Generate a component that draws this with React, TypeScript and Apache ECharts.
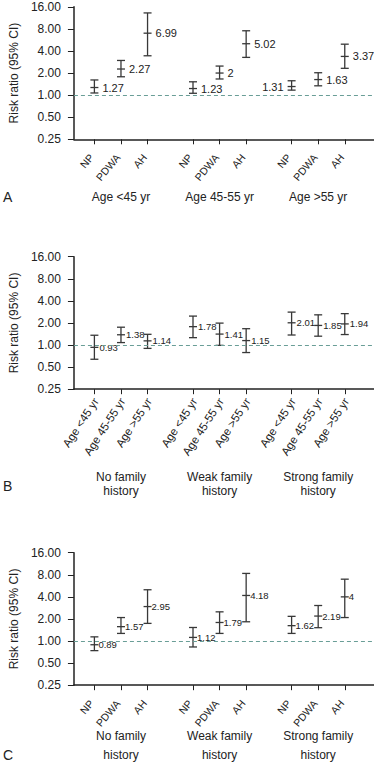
import React, { useEffect, useRef } from "react";
import * as echarts from "echarts";

// ---------- data ----------
const yTickValues = [0.25, 0.5, 1, 2, 4, 8, 16];
const yAxisTitle = "Risk ratio (95% CI)";

const panelAGroups = ["Age <45 yr", "Age 45-55 yr", "Age >55 yr"];
const panelAItems = ["NP", "PDWA", "AH"];
const panelARR = [1.27, 2.27, 6.99, 1.23, 2, 5.02, 1.31, 1.63, 3.37];
const panelALow = [1.07, 1.78, 3.44, 1.06, 1.66, 3.27, 1.17, 1.34, 2.32];
const panelAHigh = [1.61, 2.97, 13.2, 1.52, 2.49, 7.54, 1.57, 2.02, 4.95];

const panelBGroups = ["No family\nhistory", "Weak family\nhistory", "Strong family\nhistory"];
const panelBItems = ["Age <45 yr", "Age 45-55 yr", "Age >55 yr"];
const panelBRR = [0.93, 1.38, 1.14, 1.78, 1.41, 1.15, 2.01, 1.85, 1.94];
const panelBLow = [0.64, 1.08, 0.9, 1.26, 0.99, 0.79, 1.37, 1.32, 1.39];
const panelBHigh = [1.36, 1.75, 1.4, 2.48, 1.99, 1.67, 2.81, 2.58, 2.68];

const panelCGroups = ["No family\nhistory", "Weak family\nhistory", "Strong family\nhistory"];
const panelCItems = ["NP", "PDWA", "AH"];
const panelCRR = [0.89, 1.57, 2.95, 1.12, 1.79, 4.18, 1.62, 2.19, 4];
const panelCLow = [0.74, 1.27, 1.74, 0.83, 1.27, 1.83, 1.27, 1.52, 2.09];
const panelCHigh = [1.14, 2.09, 5.0, 1.53, 2.5, 8.35, 2.17, 3.05, 6.97];

const panelLetters = ["A", "B", "C"];

// ---------- layout ----------
const FONT = '"Liberation Sans", Arial, Helvetica, sans-serif';
const NARROW = '"Liberation Sans Narrow", "Arial Narrow", "Liberation Sans", Arial, sans-serif';
const INK = "#222";
const BAR = "#383838";
const REF = "#6a9e97";
const GROUP_STRIDE = 3.71;
const X_MIN = -0.77;
const X_MAX = 10.52;
const GRID_LEFT = 66;
const GRID_H = 132.5;

const pos = (i: number) => Math.floor(i / 3) * GROUP_STRIDE + (i % 3);

const panels = [
  {
    groups: panelAGroups, items: panelAItems, rr: panelARR, lo: panelALow, hi: panelAHigh,
    top: 6.8, valFont: 11, valFamily: FONT, valOffset: 8, leftLabels: [6],
    catFont: 10.5, catDx: -3, catDy: 16, catRotate: 50, groupMargin: 51, groupLH: 14, letterY: 197,
  },
  {
    groups: panelBGroups, items: panelBItems, rr: panelBRR, lo: panelBLow, hi: panelBHigh,
    top: 256.7, valFont: 9.5, valFamily: NARROW, valOffset: 5, leftLabels: [] as number[],
    catFont: 11.5, catDx: 1.5, catDy: 10, catRotate: 57, groupMargin: 81, groupLH: 14, letterY: 486,
  },
  {
    groups: panelCGroups, items: panelCItems, rr: panelCRR, lo: panelCLow, hi: panelCHigh,
    top: 552.7, valFont: 9.5, valFamily: NARROW, valOffset: 4, leftLabels: [] as number[],
    catFont: 10.5, catDx: -3, catDy: 16, catRotate: 50, groupMargin: 41, groupLH: 19, letterY: 755,
  },
];

function buildOption() {
  const grid: any[] = [];
  const xAxis: any[] = [];
  const yAxis: any[] = [];
  const series: any[] = [];
  const graphic: any[] = [];

  panels.forEach((p, pi) => {
    const itemPos = p.rr.map((_, i) => pos(i));
    const groupPos = p.groups.map((_, g) => g * GROUP_STRIDE + 1);
    grid.push({ left: GRID_LEFT, right: 0, top: p.top, height: GRID_H });

    xAxis.push({
      type: "value",
      gridIndex: pi,
      position: "bottom",
      min: X_MIN,
      max: X_MAX,
      axisLine: { show: true, onZero: false, lineStyle: { color: INK, width: 1.5 } },
      axisTick: { show: true, customValues: itemPos, length: 5, lineStyle: { color: INK, width: 1 } },
      axisLabel: { show: false },
      splitLine: { show: false },
    });
    xAxis.push({
      type: "value",
      gridIndex: pi,
      position: "bottom",
      min: X_MIN,
      max: X_MAX,
      axisLine: { show: false, onZero: false },
      axisTick: { show: false },
      axisLabel: {
        show: true,
        customValues: groupPos,
        margin: p.groupMargin,
        fontSize: 12,
        lineHeight: p.groupLH,
        fontFamily: FONT,
        color: INK,
        align: "center",
        formatter: (v: number) => {
          const k = groupPos.findIndex((q) => Math.abs(q - v) < 0.01);
          return k >= 0 ? p.groups[k] : "";
        },
      },
      splitLine: { show: false },
    });

    yAxis.push({
      type: "log",
      logBase: 2,
      gridIndex: pi,
      min: yTickValues[0],
      max: yTickValues[yTickValues.length - 1],
      splitNumber: yTickValues.length - 1,
      axisLine: { show: true, onZero: false, lineStyle: { color: INK, width: 1.5 } },
      axisTick: { show: true, length: 6, lineStyle: { color: INK, width: 1 } },
      axisLabel: {
        fontSize: 12,
        fontFamily: FONT,
        color: INK,
        margin: 13,
        formatter: (v: number) => Number(v).toFixed(2),
      },
      splitLine: { show: false },
      minorTick: { show: false },
      name: yAxisTitle,
      nameLocation: "middle",
      nameRotate: 90,
      nameGap: 51,
      nameTextStyle: { fontSize: 12, fontFamily: FONT, color: INK },
    });

    const data = p.rr.map((v, i) => [pos(i), v, p.lo[i], p.hi[i], i]);
    const rot = (p.catRotate * Math.PI) / 180;
    series.push({
      type: "custom",
      xAxisIndex: pi * 2,
      yAxisIndex: pi,
      encode: { x: 0, y: [1, 2, 3] },
      data,
      silent: true,
      clip: false,
      renderItem: (params: any, api: any) => {
        const x = api.value(0);
        const rr = api.value(1);
        const lo = api.value(2);
        const hi = api.value(3);
        const idx = api.value(4);
        const c = api.coord([x, rr]);
        const l = api.coord([x, lo]);
        const h = api.coord([x, hi]);
        const cs = params.coordSys;
        const axisY = cs.y + cs.height;
        const hw = 4;
        const ls = { stroke: BAR, lineWidth: 1.3 };
        const left = p.leftLabels.indexOf(idx) >= 0;
        return {
          type: "group",
          children: [
            { type: "line", shape: { x1: h[0], y1: h[1], x2: l[0], y2: l[1] }, style: ls },
            { type: "line", shape: { x1: h[0] - hw, y1: h[1], x2: h[0] + hw, y2: h[1] }, style: ls },
            { type: "line", shape: { x1: l[0] - hw, y1: l[1], x2: l[0] + hw, y2: l[1] }, style: ls },
            { type: "line", shape: { x1: c[0] - hw, y1: c[1], x2: c[0] + hw, y2: c[1] }, style: ls },
            {
              type: "text",
              x: left ? c[0] - p.valOffset : c[0] + p.valOffset,
              y: c[1],
              style: {
                text: String(rr),
                align: left ? "right" : "left",
                verticalAlign: "middle",
                fontSize: p.valFont,
                fontFamily: p.valFamily,
                fill: INK,
              },
            },
            {
              type: "text",
              x: c[0] + p.catDx,
              y: axisY + p.catDy,
              rotation: rot,
              style: {
                text: p.items[idx % 3],
                align: "right",
                verticalAlign: "middle",
                fontSize: p.catFont,
                fontFamily: FONT,
                fill: INK,
              },
            },
          ],
        };
      },
      markLine: {
        silent: true,
        symbol: ["none", "none"],
        label: { show: false },
        lineStyle: { type: [4, 3], color: REF, width: 1 },
        data: [{ yAxis: 1 }],
      },
    });

    graphic.push({
      type: "text",
      x: 3,
      y: p.letterY,
      style: {
        text: panelLetters[pi],
        fontSize: 14,
        fontFamily: FONT,
        fill: INK,
        verticalAlign: "middle",
      },
    });
  });

  return {
    animation: false,
    backgroundColor: "#fff",
    textStyle: { fontFamily: FONT },
    grid,
    xAxis,
    yAxis,
    series,
    graphic,
  };
}

export default function App() {
  const ref = useRef<HTMLDivElement>(null);
  useEffect(() => {
    if (!ref.current) return;
    const chart = echarts.init(ref.current, undefined, { renderer: "svg" });
    chart.setOption(buildOption() as any);
    return () => chart.dispose();
  }, []);
  return (
    <div
      ref={ref}
      style={{ position: "fixed", left: 0, top: 0, width: 374, height: 765, background: "#fff" }}
    />
  );
}
